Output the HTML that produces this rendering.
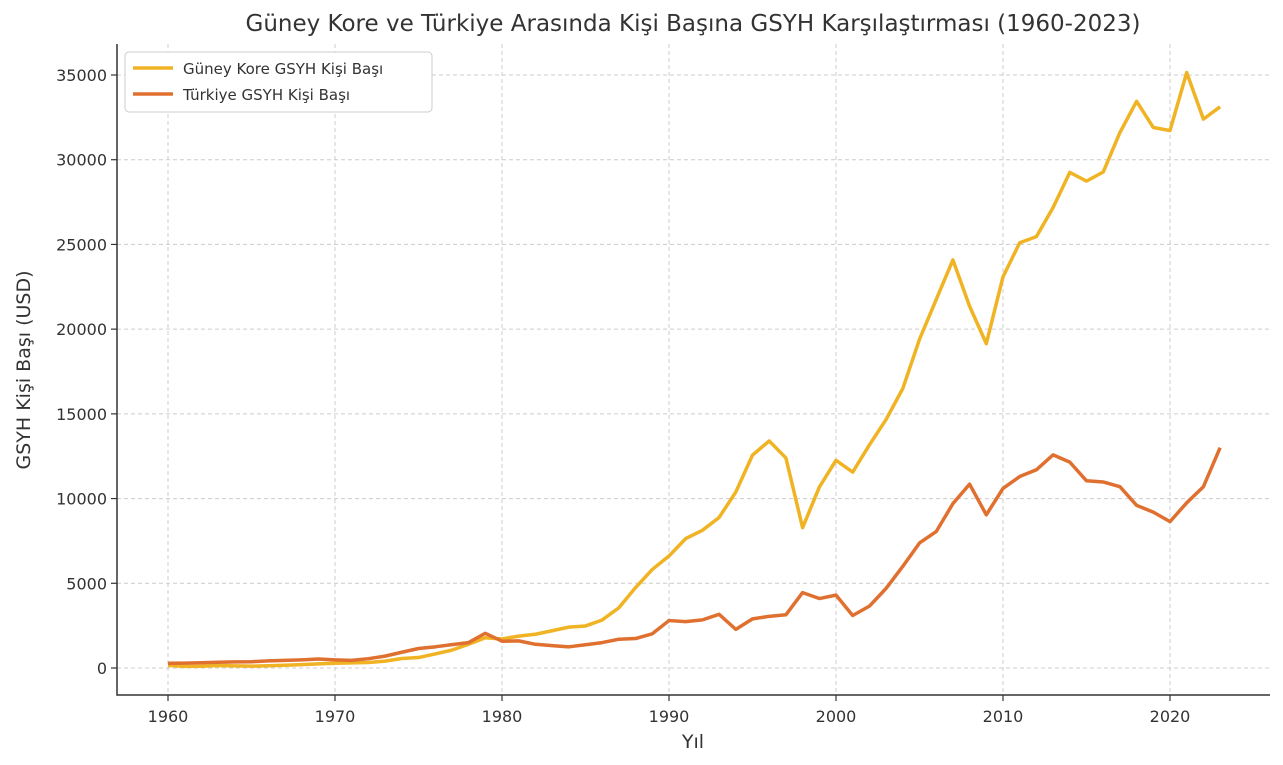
<!DOCTYPE html>
<html><head><meta charset="utf-8"><style>
body{margin:0;background:#fff;}
svg{display:block;font-family:"DejaVu Sans","Liberation Sans",sans-serif;}
</style></head><body>
<svg id="chart" width="1283" height="765"></svg>
<script>
const years=[];for(let y=1960;y<=2023;y++)years.push(y);
const korea=[158,94,106,146,124,108,133,161,199,243,279,301,324,406,563,618,830,1055,1400,1784,1715,1883,1993,2199,2413,2482,2835,3555,4749,5817,6610,7637,8127,8885,10385,12565,13403,12398,8282,10672,12257,11561,13165,14673,16496,19403,21743,24086,21350,19144,23087,25100,25459,27180,29253,28737,29274,31601,33447,31902,31721,35142,32395,33121];
const turkey=[280,290,310,340,360,370,420,450,480,530,480,450,550,700,930,1150,1250,1380,1500,2050,1580,1600,1400,1320,1250,1370,1500,1700,1740,2020,2800,2740,2840,3170,2280,2900,3050,3140,4450,4100,4300,3100,3650,4700,6000,7380,8050,9700,10850,9040,10600,11300,11700,12580,12150,11050,10980,10700,9600,9200,8640,9750,10700,13000];
const xTicks=[1960,1970,1980,1990,2000,2010,2020];
const yTicks=[0,5000,10000,15000,20000,25000,30000,35000];
const NS="http://www.w3.org/2000/svg";
const svg=document.getElementById('chart');
const L=117,R=1270,T=44,B=695;
const x=v=>168+(v-1960)*(1170-168)/60;
const y=v=>668-v*(668-75)/35000;
function mk(t,a,p){const e=document.createElementNS(NS,t);for(const k in a)e.setAttribute(k,a[k]);(p||svg).appendChild(e);return e;}
xTicks.forEach(t=>{
 const g=mk('line',{x1:x(t),x2:x(t),y1:T,y2:B,stroke:'#ccc','stroke-dasharray':'4,3','stroke-width':1});
 
 
 mk('line',{x1:x(t),x2:x(t),y1:B,y2:B+6,stroke:'#333','stroke-width':1.2});
 const l=mk('text',{x:x(t),y:B+27,'text-anchor':'middle','font-size':16,fill:'#333'});l.textContent=t;
 
 
});
yTicks.forEach(t=>{
 const g=mk('line',{x1:L,x2:R,y1:y(t),y2:y(t),stroke:'#ccc','stroke-dasharray':'4,3','stroke-width':1});
 
 
 mk('line',{x1:L-6,x2:L,y1:y(t),y2:y(t),stroke:'#333','stroke-width':1.2});
 const l=mk('text',{x:L-10,y:y(t)+6,'text-anchor':'end','font-size':16,fill:'#333'});l.textContent=t;
 
 
});
const ax=mk('path',{d:`M${L},${T} V${B} H${R}`,fill:'none',stroke:'#333','stroke-width':1.5});


function line(d,c,n){const p=mk('polyline',{points:d.map((v,i)=>x(years[i])+','+y(v)).join(' '),fill:'none',stroke:c,'stroke-width':3.5,'stroke-linejoin':'round'});
 
 }
line(korea,'#f0b323','korea-line');
line(turkey,'#e07030','turkey-line');
const title=mk('text',{x:693,y:31,'text-anchor':'middle','font-size':23,fill:'#333'});title.textContent='Güney Kore ve Türkiye Arasında Kişi Başına GSYH Karşılaştırması (1960-2023)';


const xl=mk('text',{x:693,y:748,'text-anchor':'middle','font-size':19,fill:'#333'});xl.textContent='Yıl';


const yl=mk('text',{x:0,y:0,'text-anchor':'middle','font-size':19,fill:'#333',transform:'translate(30,370) rotate(-90)'});yl.textContent='GSYH Kişi Başı (USD)';


const lg=mk('g',{});


mk('rect',{x:125,y:52,width:307,height:60,rx:4,fill:'#fff',stroke:'#ccc'},lg);
[['Güney Kore GSYH Kişi Başı','#f0b323',70],['Türkiye GSYH Kişi Başı','#e07030',96]].forEach(([t,c,yy])=>{
 const e=mk('g',{},lg);
 
 
 mk('line',{x1:133,x2:173,y1:yy-2,y2:yy-2,stroke:c,'stroke-width':3.5},e);
 const tx=mk('text',{x:183,y:yy+4,'font-size':15,fill:'#333'},e);tx.textContent=t;
});
</script>
</body></html>
